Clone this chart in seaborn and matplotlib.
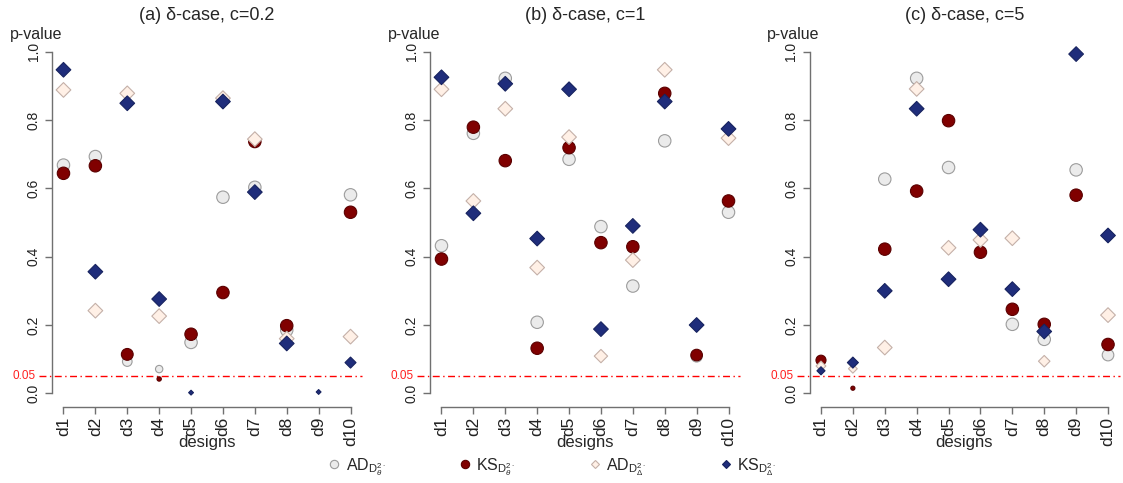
import numpy as np
import pandas as pd
import seaborn as sns
import matplotlib
matplotlib.use("Agg")
import matplotlib.pyplot as plt
from matplotlib.lines import Line2D
from matplotlib.transforms import ScaledTranslation

sns.set_style("ticks")
plt.rcParams["font.family"] = ["Liberation Sans", "DejaVu Sans"]
plt.rcParams["mathtext.fontset"] = "custom"
plt.rcParams["mathtext.rm"] = "Liberation Sans"
plt.rcParams["mathtext.it"] = "Liberation Sans:italic"
plt.rcParams["mathtext.bf"] = "Liberation Sans:bold"

nan = np.nan
designs = ["d1", "d2", "d3", "d4", "d5", "d6", "d7", "d8", "d9", "d10"]
panel_titles = ["(a) δ-case, c=0.2", "(b) δ-case, c=1", "(c) δ-case, c=5"]
y_ticks = [0.0, 0.2, 0.4, 0.6, 0.8, 1.0]
alpha_level = 0.05

# p-values per design, panel (a) c=0.2
ad_theta_a = [0.668, 0.693, 0.093, 0.071, 0.149, 0.574, 0.603, 0.185, nan, 0.581]
ks_theta_a = [0.644, 0.666, 0.114, 0.042, 0.173, 0.295, 0.737, 0.198, nan, 0.530]
ad_delta_a = [0.888, 0.242, 0.878, 0.226, nan, 0.864, 0.744, 0.160, nan, 0.166]
ks_delta_a = [0.947, 0.356, 0.849, 0.276, 0.002, 0.854, 0.589, 0.146, 0.004, 0.090]

# panel (b) c=1
ad_theta_b = [0.432, 0.761, 0.922, 0.208, 0.685, 0.488, 0.314, 0.739, 0.108, 0.530]
ks_theta_b = [0.393, 0.779, 0.681, 0.132, 0.719, 0.441, 0.429, 0.878, 0.112, 0.563]
ad_delta_b = [0.890, 0.563, 0.833, 0.368, 0.750, 0.109, 0.390, 0.947, nan, 0.747]
ks_delta_b = [0.925, 0.527, 0.906, 0.453, 0.890, 0.188, 0.490, 0.854, 0.200, 0.774]

# panel (c) c=5
ad_theta_c = [nan, nan, 0.627, 0.922, 0.661, nan, 0.202, 0.158, 0.654, 0.112]
ks_theta_c = [0.097, 0.015, 0.422, 0.592, 0.798, 0.413, 0.246, 0.202, 0.580, 0.143]
ad_delta_c = [0.080, 0.072, 0.134, 0.891, 0.426, 0.449, 0.454, 0.094, nan, 0.229]
ks_delta_c = [0.066, 0.090, 0.300, 0.833, 0.334, 0.479, 0.305, 0.181, 0.993, 0.462]

panels = [
    (ad_theta_a, ks_theta_a, ad_delta_a, ks_delta_a),
    (ad_theta_b, ks_theta_b, ad_delta_b, ks_delta_b),
    (ad_theta_c, ks_theta_c, ad_delta_c, ks_delta_c),
]

# series styles: marker, face, edge, base area
styles = [
    ("o", "#ebebeb", "#9c9c9c", 80),
    ("o", "#800000", "#5a0000", 80),
    ("D", "#fff0e6", "#c4b0a8", 56),
    ("D", "#1f2d7b", "#17235f", 56),
]
legend_labels = [
    r"AD$_{\mathrm{D}^{2\cdot}_{\theta}}$",
    r"KS$_{\mathrm{D}^{2\cdot}_{\theta}}$",
    r"AD$_{\mathrm{D}^{2\cdot}_{\Delta}}$",
    r"KS$_{\mathrm{D}^{2\cdot}_{\Delta}}$",
]

W, H = 1123, 483
fig = plt.figure(figsize=(W / 100, H / 100), dpi=100)
lefts = [52, 430, 809.5]
width_px = 310
top_px, bottom_px = 38, 407
axis_col = "#707070"

x_pos = np.arange(1, len(designs) + 1)

for k, (series, title) in enumerate(zip(panels, panel_titles)):
    ax = fig.add_axes([lefts[k] / W, (H - bottom_px) / H,
                       width_px / W, (bottom_px - top_px) / H])
    for vals, (mk, fc, ec, base) in zip(series, styles):
        p = np.asarray(vals, dtype=float)
        df = pd.DataFrame({"x": x_pos, "p": p}).dropna()
        scale = np.clip(df["p"].to_numpy() / 0.12, 0.33, 1.0)
        sns.scatterplot(data=df, x="x", y="p", ax=ax, marker=mk,
                        color=fc, edgecolor=ec, linewidth=0.8,
                        s=base * scale ** 2, legend=False, zorder=3)

    ax.set_xlim(0.64, 10.36)
    ax.set_ylim(-0.04, 1.04)
    sns.despine(ax=ax)
    ax.spines["left"].set_bounds(0, 1)
    ax.spines["bottom"].set_bounds(1, 10)
    for side in ("left", "bottom"):
        ax.spines[side].set_color(axis_col)
        ax.spines[side].set_linewidth(1.0)

    ax.set_xticks(x_pos)
    ax.set_xticklabels(designs, rotation=90, fontsize=12.5)
    ax.set_yticks(y_ticks)
    ax.set_yticklabels([f"{v:.1f}" for v in y_ticks], rotation=90,
                       fontsize=10, va="center")
    ax.tick_params(axis="both", length=5, width=1, color=axis_col,
                   labelcolor="#222222")
    ax.tick_params(axis="x", pad=2)
    ax.tick_params(axis="y", pad=3)
    ax.set_xlabel("")
    ax.set_ylabel("")

    # significance threshold
    ytrans = ax.get_yaxis_transform()
    ax.plot([-13 / width_px, 1], [alpha_level, alpha_level], transform=ytrans,
            color="#ff0000", lw=1.0, ls=(0, (5, 2.5, 1, 2.5)),
            clip_on=False, zorder=2)
    ax.text(0, alpha_level, f"{alpha_level:.2f}", color="#ff2020",
            fontsize=8.5, ha="right", va="center",
            transform=ytrans + ScaledTranslation(-16 / 100, 0, fig.dpi_scale_trans))

    cx = (lefts[k] + width_px / 2) / W
    fig.text(cx, 1 - 15 / H, title, ha="center", va="center", fontsize=13)
    fig.text((lefts[k] + 10) / W, 1 - 34 / H, "p-value", ha="right",
             va="center", fontsize=11.5)
    fig.text(cx, 1 - 443 / H, "designs", ha="center", va="center", fontsize=12)

handles = [
    Line2D([], [], ls="none", marker=mk, markerfacecolor=fc, markeredgecolor=ec,
           markeredgewidth=0.8, markersize=6 if mk == "o" else 4.5)
    for (mk, fc, ec, _) in styles
]
fig.legend(handles, legend_labels, loc="center", ncol=4, frameon=False,
           bbox_to_anchor=(552 / W, 1 - 467 / H), fontsize=11.5,
           handlelength=0.8, handletextpad=0.3, columnspacing=4.6,
           borderpad=0, borderaxespad=0)

fig.savefig("out.png", dpi=100)
